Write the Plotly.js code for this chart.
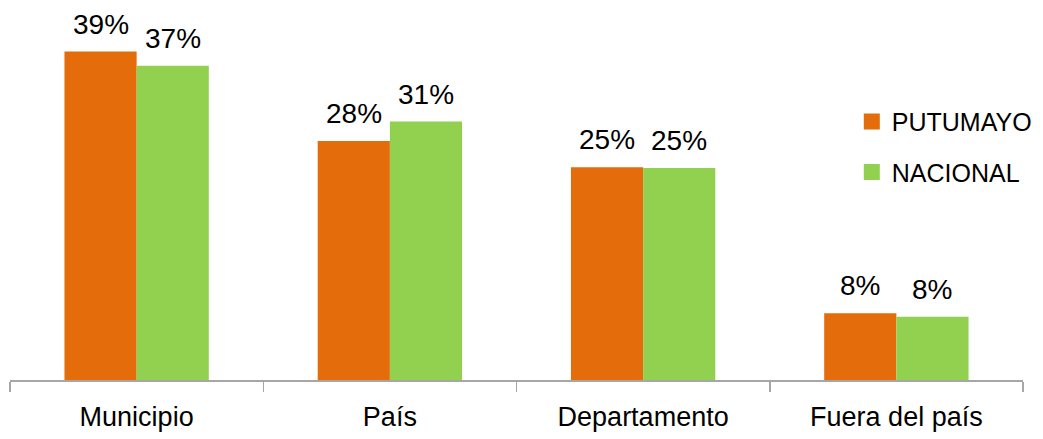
<!DOCTYPE html>
<html>
<head>
<meta charset="utf-8">
<script src="https://cdn.plot.ly/plotly-3.0.1.min.js"></script>
<style>html,body{margin:0;padding:0;background:#fff;}#chart{width:1043px;height:439px;}</style>
</head>
<body>
<div id="chart"></div>
<script>
var categories = ['Municipio', 'País', 'Departamento', 'Fuera del país'];
var putumayo = [38.9, 28.3, 25.2, 7.9];
var nacional = [37.2, 30.6, 25.1, 7.5];
var seriesNames = ['PUTUMAYO', 'NACIONAL'];

var FONT = '"Liberation Sans", Arial, sans-serif';
var colors = ['#E46C0A', '#92D050'];

var traces = [
  {type: 'bar', name: seriesNames[0], x: categories, y: putumayo, marker: {color: colors[0]}, hoverinfo: 'skip', showlegend: false},
  {type: 'bar', name: seriesNames[1], x: categories, y: nacional, marker: {color: colors[1]}, hoverinfo: 'skip', showlegend: false},
  // legend entries (square keys)
  {type: 'scatter', mode: 'markers', name: seriesNames[0], x: [categories[0]], y: [null], legendgroup: 'a',
   marker: {symbol: 'square', size: 16, color: colors[0], line: {width: 0}}, hoverinfo: 'skip'},
  {type: 'scatter', mode: 'markers', name: seriesNames[1], x: [categories[0]], y: [null], legendgroup: 'b',
   marker: {symbol: 'square', size: 16, color: colors[1], line: {width: 0}}, hoverinfo: 'skip'}
];

var annotations = [];
[putumayo, nacional].forEach(function (vals, s) {
  vals.forEach(function (v, i) {
    annotations.push({
      x: categories[i], y: v, xref: 'x', yref: 'y',
      text: Math.round(v) + '%', showarrow: false,
      xanchor: 'center', yanchor: 'bottom',
      xshift: s === 0 ? -36 : 36, yshift: 10,
      font: {family: FONT, size: 28, color: '#000'}
    });
  });
});

var layout = {
  width: 1043, height: 439,
  margin: {l: 10, r: 20, t: 0, b: 59, autoexpand: false},
  paper_bgcolor: '#fff', plot_bgcolor: '#fff',
  barmode: 'group', bargap: 0.43, bargroupgap: 0,
  showlegend: true,
  legend: {x: 0.831, y: 0.74, xanchor: 'left', yanchor: 'top',
    font: {family: FONT, size: 25, color: '#000'}, tracegroupgap: 15, bgcolor: 'rgba(0,0,0,0)'},
  xaxis: {
    type: 'category', showline: true, linecolor: '#A6A6A6', linewidth: 1.5,
    ticks: 'outside', tickson: 'boundaries', ticklen: 10, tickcolor: '#A6A6A6', tickwidth: 1.5,
    tickfont: {family: FONT, size: 27, color: '#000'}, showgrid: false, zeroline: false,
    ticklabelstandoff: 12, automargin: false
  },
  yaxis: {range: [0, 45], visible: false, showgrid: false, zeroline: false, fixedrange: true, automargin: false},
  annotations: annotations
};

Plotly.newPlot('chart', traces, layout, {displayModeBar: false, staticPlot: true});
</script>
</body>
</html>
